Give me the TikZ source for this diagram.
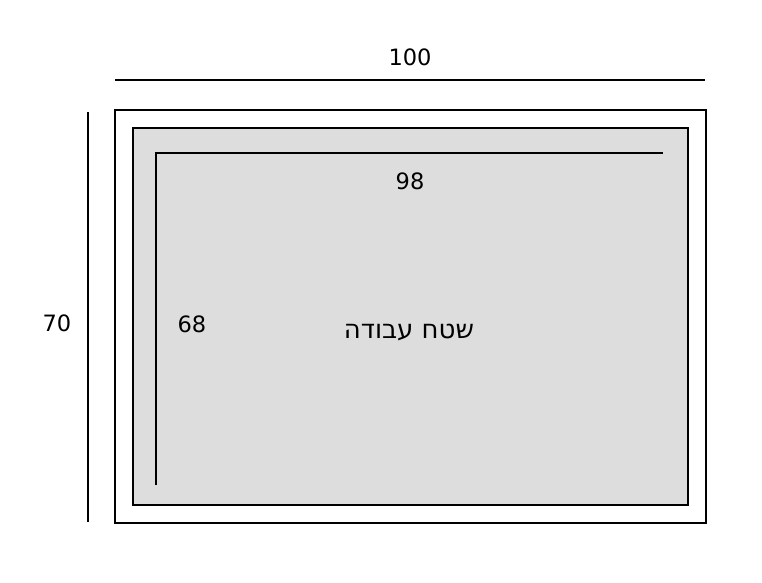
\documentclass[tikz,border=0pt]{standalone}
\usepackage{fontspec}
\setmainfont{DejaVu Sans}
\newfontfamily\hebfont[Script=Hebrew]{DejaVu Sans}
\TeXXeTstate=1
\usetikzlibrary{positioning}
\tikzset{dim label/.style={font=\fontsize{22.5}{27}\selectfont,inner sep=0pt},
  work label/.style={font=\fontsize{26}{31}\selectfont,inner sep=0pt},
  frame line/.style={line width=1.8pt}}

\begin{document}
\begin{tikzpicture}[x=1pt,y=-1pt]
    \useasboundingbox (0,0) rectangle (762,582);
    % outer frame and work area
    \draw[frame line,fill=white] (115,110) rectangle (706,523);
    \draw[frame line,fill=gray!27] (133,128) rectangle (688,505);

    % dimension lines
    \coordinate (top l) at (115,80);
    \coordinate (top r) at (705,80);
    \coordinate (left t) at (88,112);
    \coordinate (left b) at (88,522);
    \coordinate (in c) at (156,153);
    \coordinate (in r) at (663,153);
    \coordinate (in b) at (156,485);
    \draw[frame line] (top l) -- (top r);
    \draw[frame line] (left t) -- (left b);
    \draw[frame line] (in r) -- (in c) -- (in b);

    \node[dim label] (w outer) at (410,57) {100};
    \node[dim label] (h outer) at (57,323) {70};
    \node[dim label] (w inner) at (410,181) {98};
    \node[dim label] (h inner) at (192,324) {68};
    \node[work label] (work) at (409,333) {\hebfont\beginR שטח עבודה\endR};
\end{tikzpicture}
\end{document}
